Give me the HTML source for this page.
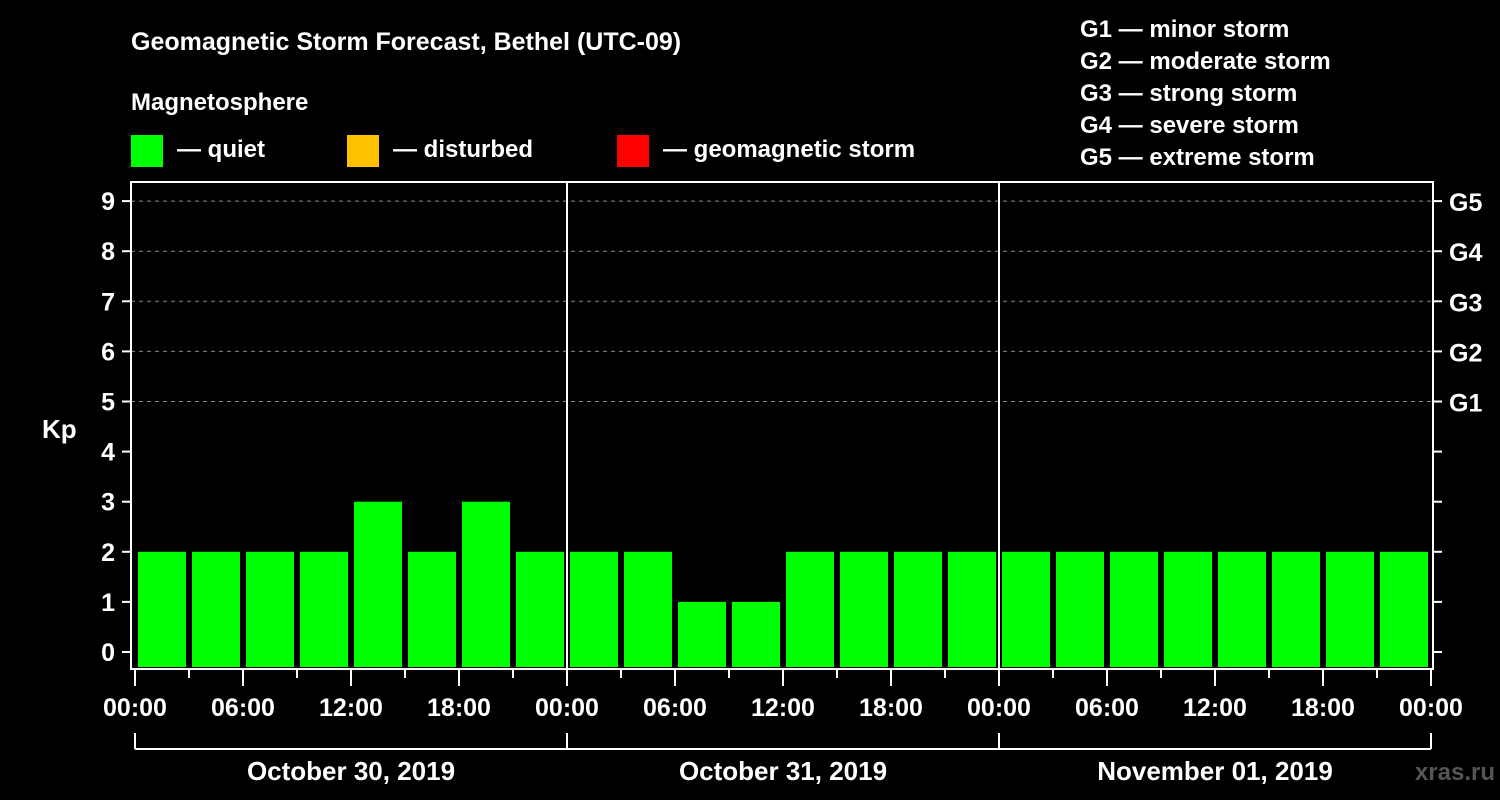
<!DOCTYPE html>
<html><head><meta charset="utf-8"><style>
body{margin:0;background:#000;}
svg{display:block;font-family:"Liberation Sans",sans-serif;font-weight:bold;}
</style></head><body>
<svg id="chart" width="1500" height="800" viewBox="0 0 1500 800">
<rect width="1500" height="800" fill="#000"/>
<text x="131" y="50" fill="#fff" font-size="25">Geomagnetic Storm Forecast, Bethel (UTC-09)</text>
<text x="131" y="110" fill="#fff" font-size="24">Magnetosphere</text>
<g><rect x="131" y="135" width="32" height="32" fill="#00ff00"/><text x="177" y="157" fill="#fff" font-size="24">— quiet</text></g>
<g><rect x="347" y="135" width="32" height="32" fill="#ffc000"/><text x="393" y="157" fill="#fff" font-size="24">— disturbed</text></g>
<g><rect x="617" y="135" width="32" height="32" fill="#ff0000"/><text x="663" y="157" fill="#fff" font-size="24">— geomagnetic storm</text></g>
<g fill="#fff" font-size="24">
<text x="1080" y="37">G1 — minor storm</text>
<text x="1080" y="69">G2 — moderate storm</text>
<text x="1080" y="101">G3 — strong storm</text>
<text x="1080" y="133">G4 — severe storm</text>
<text x="1080" y="165">G5 — extreme storm</text>
</g>
<text x="42" y="438" fill="#fff" font-size="26">Kp</text>
<text x="1495" y="780" fill="#555" font-size="24" text-anchor="end">xras.ru</text>
<g id="grid"></g><g id="bars"></g><g id="axes"></g>
</svg>
<script>
const kpValues = [2,2,2,2,3,2,3,2, 2,2,1,1,2,2,2,2, 2,2,2,2,2,2,2,2];
const dayLabels = ["October 30, 2019","October 31, 2019","November 01, 2019"];
const hourLabels = ["00:00","06:00","12:00","18:00"];
const gLabels = ["G1","G2","G3","G4","G5"];
const NS="http://www.w3.org/2000/svg";
const L=131,R=1433,T=182,B=669,X0=135,DAYW=432;
const y=k=>652-50.1*k;
const x=h=>X0+h*DAYW/24;
function mk(tag,attrs,parent,text){const e=document.createElementNS(NS,tag);for(const k in attrs)e.setAttribute(k,attrs[k]);if(text!==undefined)e.textContent=text;parent.appendChild(e);return e;}
const grid=document.getElementById('grid'),bars=document.getElementById('bars'),axes=document.getElementById('axes');
for(let k=5;k<=9;k++){
  const g=mk('line',{x1:L,x2:R,y1:y(k),y2:y(k),stroke:'#888','stroke-width':1,'stroke-dasharray':'4,4'},grid);
  
  
}
kpValues.forEach((v,i)=>{
  const c=v>=5?'#ff0000':(v>=4?'#ffc000':'#00ff00');
  const r=mk('rect',{x:x(i*3)+3,width:DAYW/8-6,y:y(v),height:667-y(v),fill:c},bars);
  
  
});
const fr=mk('rect',{x:L,y:T,width:R-L,height:B-T,fill:'none',stroke:'#fff','stroke-width':2},axes);


for(let d=1;d<dayLabels.length;d++){
  const s=mk('line',{x1:x(d*24),x2:x(d*24),y1:T,y2:B,stroke:'#fff','stroke-width':2},axes);
  
  
}
for(let k=0;k<=9;k++){
  mk('line',{x1:122,x2:L,y1:y(k),y2:y(k),stroke:'#fff','stroke-width':2},axes);
  mk('line',{x1:R,x2:1442,y1:y(k),y2:y(k),stroke:'#fff','stroke-width':2},axes);
  const t=mk('text',{x:115,y:y(k)+9,fill:'#fff','font-size':25,'text-anchor':'end'},axes,String(k));
  
  
  if(k>=5){
    const g=mk('text',{x:1449,y:y(k)+10,fill:'#fff','font-size':25},axes,gLabels[k-5]);
    
    
  }
}
for(let h=0;h<=72;h+=3){
  const major=h%6===0;
  mk('line',{x1:x(h),x2:x(h),y1:B,y2:major?686:678,stroke:'#fff','stroke-width':2},axes);
  if(major){
    const t=mk('text',{x:x(h),y:716,fill:'#fff','font-size':25,'text-anchor':'middle'},axes,hourLabels[(h/6)%4]);
    
    
  }
}
mk('line',{x1:x(0),x2:x(72),y1:749,y2:749,stroke:'#fff','stroke-width':2},axes);
for(let d=0;d<=dayLabels.length;d++) mk('line',{x1:x(d*24),x2:x(d*24),y1:733,y2:749,stroke:'#fff','stroke-width':2},axes);
dayLabels.forEach((s,d)=>{
  const t=mk('text',{x:x(d*24+12),y:780,fill:'#fff','font-size':26,'text-anchor':'middle'},axes,s);
  
  
});
</script>
</body></html>
